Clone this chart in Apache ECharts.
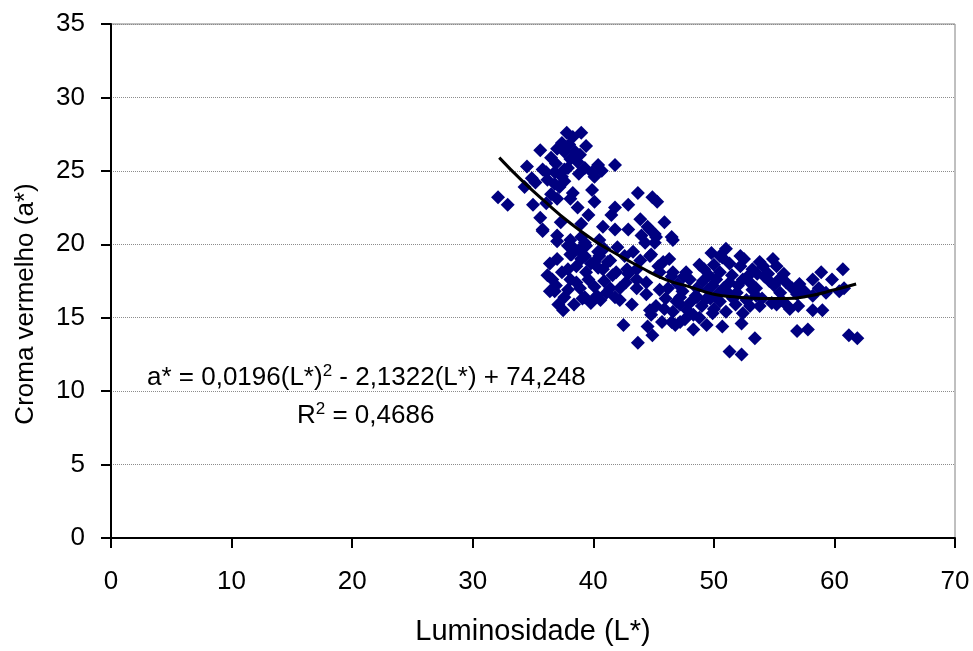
<!DOCTYPE html>
<html><head><meta charset="utf-8">
<script src="https://cdn.jsdelivr.net/npm/echarts/dist/echarts.min.js"></script>
<style>html,body{margin:0;padding:0;background:#fff}#c{width:973px;height:651px}</style>
</head><body><div id="c"></div>
<script>
// Luminosidade (L*) values of each sample
const lumX = [
32.1,32.9,35.6,37.8,39.0,38.3,37.4,37.0,37.6,36.5,38.5,38.1,38.7,34.5,35.8,36.8,37.6,39.3,40.4,41.8,39.9,40.7,34.9,36.2,37.4,35.2,36.8,37.6,40.1,34.3,39.9,35.0,37.0,38.3,38.1,36.1,40.1,43.7,44.9,45.3,41.8,41.5,42.9,35.6,35.8,39.0,40.8,41.8,42.9,43.9,44.5,45.9,37.0,38.1,39.0,44.0,45.1,46.5,44.7,45.2,46.6,38.0,36.9,38.8,37.2,
37.0,37.9,39.3,38.2,39.3,40.4,42.0,43.3,44.3,45.1,44.7,37.9,37.4,36.6,38.6,40.4,41.2,41.9,42.9,43.6,45.4,44.4,46.5,36.8,37.6,39.3,40.1,40.6,41.1,42.2,42.2,43.2,43.6,44.4,37.5,37.1,45.2,44.8,45.9,45.7,42.5,44.5,44.9,43.7,46.5,
38.3,39.4,40.5,38.6,40.1,38.1,39.4,40.8,41.6,42.8,43.6,39.1,40.3,41.4,40.5,41.4,35.8,38.1,39.0,36.2,36.4,37.0,36.4,
51.0,50.7,52.2,54.9,55.2,46.6,47.7,49.1,50.5,52.2,53.2,54.1,60.7,58.9,58.2,57.1,56.0,54.6,53.0,51.3,49.9,47.4,48.6,51.9,53.5,55.5,56.9,58.2,59.3,60.4,46.9,48.0,49.4,50.5,52.7,53.8,55.2,56.3,58.2,59.0,46.6,48.3,49.9,51.0,52.4,46.8,48.3,49.4,50.7,52.3,56.9,57.8,53.4,61.2,61.9,51.3,52.3,
50.5,44.8,45.5,51.3,49.7,48.6,47.2,44.7,47.2,
48.5,49.5,50.2,51.5,52.0,52.8,53.5,54.0,54.5,55.0,53.0,51.8,50.3,49.0,47.8,47.0,48.0,46.0,45.5,55.8,56.5,57.5,58.7,59.8,60.8,53.8,52.5,50.0,49.2,47.2,
46.2,47.5,48.8,49.6,50.8,51.6,52.4,53.2,54.2,55.6,54.8,56.0,50.0,48.8,47.6,51.3,53.6,55.4,57.0,45.8,46.3,49.8,
38.8,39.8,40.9,39.6,40.9,38.9,37.9,38.4,39.8,36.9,41.8,42.6,43.9,42.7,37.3,38.7,39.6,36.5,38.9,37.9,39.4,36.1
];
// Croma vermelho (a*) values of each sample
const cromaY = [
23.2,22.7,26.4,27.6,27.6,27.3,26.9,26.5,26.3,25.9,26.3,25.8,25.6,25.3,25.1,24.9,25.1,25.2,25.4,25.4,24.9,25.0,24.5,24.4,24.6,24.2,24.1,24.3,24.6,23.9,23.7,22.7,23.1,23.5,23.1,22.8,22.9,23.5,23.2,22.9,22.5,22.0,22.7,21.8,21.0,21.4,21.2,21.0,21.0,21.7,21.2,21.5,20.6,20.3,20.5,20.6,20.7,20.5,21.0,20.5,20.3,26.8,25.5,24.8,23.9,
20.2,19.9,20.1,19.3,19.2,19.5,19.8,19.5,20.1,20.1,19.2,18.3,18.1,17.6,17.4,18.4,18.8,18.1,18.0,18.3,18.5,17.4,17.8,16.8,16.4,16.4,17.1,16.2,16.7,17.0,16.2,15.9,17.0,16.6,15.5,15.9,15.8,15.2,15.6,14.7,14.5,14.4,13.8,13.3,14.7,
19.8,19.9,20.3,18.5,18.8,17.6,18.1,18.3,17.9,18.3,17.6,16.3,16.5,17.0,19.2,18.9,20.9,19.3,19.0,17.9,18.7,19.0,16.8,
19.7,19.1,19.2,19.0,18.5,18.1,18.1,17.5,18.1,18.5,18.3,18.5,18.3,18.1,17.6,17.3,17.4,17.5,17.4,17.4,17.2,16.8,17.0,16.7,16.5,16.7,16.6,16.5,16.7,16.8,16.1,16.0,16.3,16.1,16.2,15.8,15.9,15.6,15.5,15.5,15.4,15.2,15.3,15.4,15.3,14.5,14.2,14.5,14.4,14.6,14.1,14.2,13.6,13.8,13.6,12.7,12.5,
19.2,19.3,18.1,16.6,16.3,16.4,16.4,15.5,14.7,
16.5,16.9,17.6,17.9,17.2,17.8,17.0,16.3,18.0,17.2,15.8,15.9,16.6,15.8,15.5,17.3,17.6,16.3,16.9,18.0,17.0,16.8,17.0,17.6,17.0,18.8,19.0,18.6,18.3,15.9,
17.0,17.8,18.6,17.9,17.0,16.3,17.6,16.9,17.8,16.2,16.0,15.9,15.6,15.0,14.9,18.7,18.0,17.6,15.8,18.8,19.0,19.4,
19.6,18.7,19.7,17.6,17.5,17.0,16.9,15.9,16.0,17.2,16.4,19.2,18.9,17.4,21.5,22.5,22.0,23.4,26.1,25.2,26.7,24.9
];
// polynomial trendline
const trendX = [32.2,34,36,38,40,42,44,46,48,50,52,54,56,58,60,61.8];
const trendY = [25.9,24.4,22.9,21.5,20.3,19.3,18.4,17.6,17.1,16.6,16.4,16.3,16.3,16.5,16.9,17.3];

const FONT = '"Liberation Sans", Arial, sans-serif';
const chart = echarts.init(document.getElementById('c'));
chart.setOption({
  animation: false,
  backgroundColor: '#fff',
  grid: {left: 111, right: 18, top: 24, bottom: 111, show: true, borderColor: '#808080', borderWidth: 1},
  xAxis: {
    type: 'value', min: 0, max: 70, interval: 10,
    name: 'Luminosidade (L*)', nameLocation: 'middle', nameGap: 79,
    nameTextStyle: {fontSize: 29, color: '#000', fontFamily: FONT},
    axisLine: {show: true, onZero: false, lineStyle: {color: '#000', width: 2}},
    axisTick: {show: true, length: 10, lineStyle: {color: '#000', width: 2}},
    axisLabel: {fontSize: 26, color: '#000', margin: 31, fontFamily: FONT},
    splitLine: {show: false}
  },
  yAxis: {
    type: 'value', min: 0, max: 35, interval: 5,
    axisLine: {show: true, onZero: false, lineStyle: {color: '#000', width: 2}},
    axisTick: {show: true, length: 10, lineStyle: {color: '#000', width: 2}},
    axisLabel: {fontSize: 26, color: '#000', margin: 26, fontFamily: FONT},
    splitLine: {show: true, lineStyle: {color: '#8c8c8c', width: 1, type: [1, 1]}}
  },
  series: [
    {
      type: 'scatter', symbol: 'diamond', symbolSize: 14,
      itemStyle: {color: '#000080', opacity: 1},
      data: lumX.map((x, i) => [x, cromaY[i]]),
      z: 2
    },
    {
      type: 'line', smooth: true, showSymbol: false,
      lineStyle: {color: '#000', width: 3},
      data: trendX.map((x, i) => [x, trendY[i]]),
      z: 3
    }
  ],
  graphic: [
    {
      type: 'text', x: 26, y: 304, rotation: Math.PI / 2,
      style: {
        text: 'Croma vermelho (a*)', fontSize: 26, fontFamily: FONT, fill: '#000',
        align: 'center', verticalAlign: 'middle'
      }
    },
    {
      type: 'text', left: 147, top: 363,
      style: {
        text: '{n|a* = 0,0196(L*)}{s|2}{n| - 2,1322(L*) + 74,248}',
        rich: {
          n: {fontSize: 26, fontFamily: FONT, fill: '#000', lineHeight: 30},
          s: {fontSize: 17, fontFamily: FONT, fill: '#000', verticalAlign: 'top', lineHeight: 20}
        }
      }
    },
    {
      type: 'text', left: 297, top: 401,
      style: {
        text: '{n|R}{s|2}{n| = 0,4686}',
        rich: {
          n: {fontSize: 26, fontFamily: FONT, fill: '#000', lineHeight: 30},
          s: {fontSize: 17, fontFamily: FONT, fill: '#000', verticalAlign: 'top', lineHeight: 20}
        }
      }
    }
  ]
});
</script>
</body></html>
